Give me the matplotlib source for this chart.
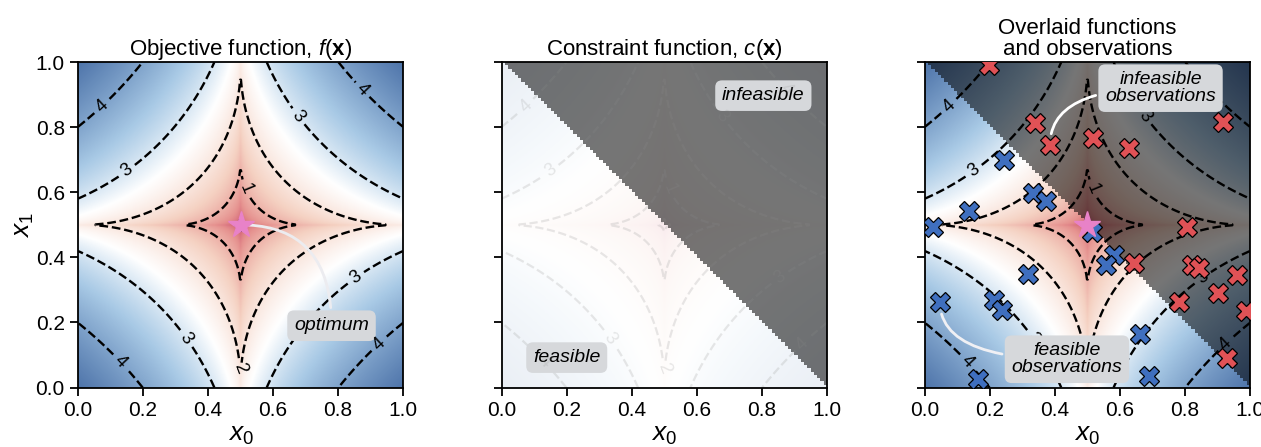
import numpy as np
import matplotlib
matplotlib.use('Agg')
from matplotlib import pyplot as plt
from matplotlib.colors import LinearSegmentedColormap

plt.rcParams['font.family'] = ['Liberation Sans', 'DejaVu Sans']
plt.rcParams['mathtext.fontset'] = 'custom'
plt.rcParams['mathtext.rm'] = 'Liberation Sans'
plt.rcParams['mathtext.it'] = 'Liberation Sans:italic'
plt.rcParams['mathtext.bf'] = 'Liberation Sans:bold'

# 数据
titles = [r'Objective function, $f(\mathbf{x})$',
          r'Constraint function, $c(\mathbf{x})$',
          'Overlaid functions\nand observations']
tick_values = [0.0, 0.2, 0.4, 0.6, 0.8, 1.0]
contour_levels = [0, 1, 2, 3, 4]
optimum = [0.5, 0.5]

feasible_x0 = [0.242, 0.334, 0.373, 0.137, 0.026, 0.514, 0.583, 0.557,
               0.317, 0.046, 0.211, 0.236, 0.663, 0.162, 0.691]
feasible_x1 = [0.698, 0.597, 0.572, 0.544, 0.492, 0.479, 0.408, 0.377,
               0.348, 0.264, 0.269, 0.237, 0.164, 0.027, 0.034]
infeasible_x0 = [0.197, 0.339, 0.385, 0.516, 0.628, 0.918, 0.807, 0.642,
                 0.822, 0.843, 0.961, 0.783, 0.902, 0.989, 0.930]
infeasible_x1 = [0.990, 0.812, 0.746, 0.768, 0.736, 0.816, 0.492, 0.382,
                 0.377, 0.366, 0.346, 0.264, 0.290, 0.234, 0.092]

# 标签位置
label_pos = [(0.08, 0.86), (0.14, 0.68), (0.54, 0.62), (0.66, 0.82),
             (0.88, 0.92), (0.86, 0.33), (0.92, 0.14), (0.33, 0.15),
             (0.13, 0.08), (0.5, 0.06)]

# 目标函数和约束函数
g = np.linspace(0, 1, 400)
X0, X1 = np.meshgrid(g, g)
F = 3.75 * (np.abs(X0 - 0.5) ** 0.55 + np.abs(X1 - 0.5) ** 0.55) - 0.5
vmin, vmax = F.min(), F.max()

gc = (np.arange(100) + 0.5) / 100
C0, C1 = np.meshgrid(gc, gc)
C = C0 + C1 - 1
shade = np.zeros((100, 100, 4))
shade[..., 3] = np.where(C > 0, 0.54, 0.0)


def nrm(v):
    return (v - vmin) / (vmax - vmin)


cmap = LinearSegmentedColormap.from_list('obj', [
    (0.0, (0.79, 0.30, 0.42)),
    (nrm(0.5), (0.90, 0.57, 0.56)),
    (nrm(1.5), (0.96, 0.82, 0.76)),
    (nrm(2.6), (1.0, 1.0, 1.0)),
    (nrm(3.5), (0.66, 0.79, 0.90)),
    (1.0, (0.31, 0.46, 0.67)),
])

fig = plt.figure(figsize=(12.61, 4.47), dpi=100)
lefts = [0.0619, 0.3979, 0.7335]
axes = [fig.add_axes([l, 0.133, 0.2577, 0.728]) for l in lefts]

box = dict(boxstyle='round,pad=0.35', fc='#d6d8db', ec='none')
fs_note = 14

for i, ax in enumerate(axes):
    if i == 1:
        ax.imshow(F, cmap=cmap, origin='lower', extent=[0, 1, 0, 1],
                  aspect='auto', alpha=0.12, vmin=vmin, vmax=vmax)
        cs = ax.contour(X0, X1, F, levels=contour_levels, colors='0.55',
                        linestyles='--', linewidths=1.6, alpha=0.2)
        ax.clabel(cs, fmt='%d', fontsize=13, manual=label_pos)
    else:
        ax.imshow(F, cmap=cmap, origin='lower', extent=[0, 1, 0, 1],
                  aspect='auto', vmin=vmin, vmax=vmax)
        cs = ax.contour(X0, X1, F, levels=contour_levels, colors='black',
                        linestyles='--', linewidths=1.7)
        ax.clabel(cs, fmt='%d', fontsize=13, manual=label_pos)
    if i > 0:
        ax.imshow(shade, origin='lower', extent=[0, 1, 0, 1],
                  aspect='auto', interpolation='nearest')

    ax.set_xlim(0, 1)
    ax.set_ylim(0, 1)
    ax.set_xticks(tick_values)
    ax.set_yticks(tick_values)
    ax.tick_params(direction='out', length=6, width=1.3, labelsize=15)
    for s in ax.spines.values():
        s.set_linewidth(1.3)
    ax.set_xlabel(r'$x_0$', fontsize=19, labelpad=2)
    ax.set_title(titles[i], fontsize=16, linespacing=1.0, pad=5)
    if i == 0:
        ax.set_ylabel(r'$x_1$', fontsize=19, labelpad=0)
    else:
        ax.set_yticklabels([])

# 左图：最优点
ax = axes[0]
ax.annotate('optimum', xy=optimum, xytext=(0.78, 0.19), fontsize=fs_note,
            style='italic', ha='center', va='center', bbox=box,
            arrowprops=dict(arrowstyle='-', color='#ececf0', lw=2,
                            shrinkB=6,
                            connectionstyle='angle3,angleA=90,angleB=0'))
ax.plot(optimum[0], optimum[1], marker='*', color='#e882c8', ms=20,
        ls='none', zorder=5)

# 中图
ax = axes[1]
ax.text(0.805, 0.897, 'infeasible', fontsize=fs_note, style='italic',
        ha='center', va='center', bbox=box)
ax.text(0.2, 0.092, 'feasible', fontsize=fs_note, style='italic',
        ha='center', va='center', bbox=box)

# 右图：观测点
ax = axes[2]
ax.plot(feasible_x0, feasible_x1, marker='X', ls='none', ms=14,
        color='#3f6fbf', mec='black', mew=0.9, zorder=4)
ax.plot(infeasible_x0, infeasible_x1, marker='X', ls='none', ms=14,
        color='#e05256', mec='black', mew=0.9, zorder=4)
ax.plot(optimum[0], optimum[1], marker='*', color='#e882c8', ms=20,
        ls='none', zorder=5)
ax.annotate('infeasible\nobservations', xy=(0.385, 0.746),
            xytext=(0.725, 0.92), fontsize=fs_note, style='italic',
            ha='center', va='center', bbox=box, linespacing=1.0, zorder=6,
            arrowprops=dict(arrowstyle='-', color='white', lw=2, shrinkB=8,
                            connectionstyle='angle3,angleA=0,angleB=90'))
ax.annotate('feasible\nobservations', xy=(0.046, 0.264),
            xytext=(0.437, 0.087), fontsize=fs_note, style='italic',
            ha='center', va='center', bbox=box, linespacing=1.0, zorder=6,
            arrowprops=dict(arrowstyle='-', color='#f0f0f4', lw=2, shrinkB=9,
                            connectionstyle='angle3,angleA=0,angleB=90'))

plt.savefig('out.png', dpi=100)
